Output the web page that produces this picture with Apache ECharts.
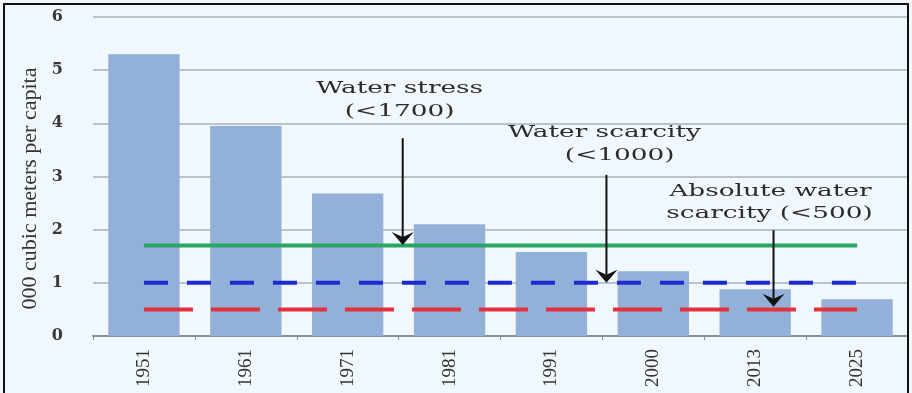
<!DOCTYPE html>
<html>
<head>
<meta charset="utf-8">
<script src="https://cdn.jsdelivr.net/npm/echarts@6/dist/echarts.min.js"></script>
<style>
  html, body { margin: 0; padding: 0; background: #ffffff; }
  #wrap { position: relative; width: 912px; height: 393px; overflow: hidden; }
  #chart { position: absolute; left: 0; top: 0; width: 912px; height: 393px; }
  #frame { position: absolute; left: 3px; top: 3px; width: 906px; height: 400px;
           box-sizing: border-box; border: 2px solid #111; pointer-events: none; }
</style>
</head>
<body>
<div id="wrap">
  <div id="chart"></div>
  <div id="frame"></div>
</div>
<script>
// ---- data ----
const years = ['1951', '1961', '1971', '1981', '1991', '2000', '2013', '2025'];
const perCapita = [5.3, 3.95, 2.68, 2.1, 1.58, 1.22, 0.88, 0.69];
const stressLevel = [1.7, 1.7, 1.7, 1.7, 1.7, 1.7, 1.7, 1.7];
const scarcityLevel = [1.0, 1.0, 1.0, 1.0, 1.0, 1.0, 1.0, 1.0];
const absoluteLevel = [0.5, 0.5, 0.5, 0.5, 0.5, 0.5, 0.5, 0.5];
const yAxisName = '000 cubic meters per capita';

// annotation texts (positions in data units: x = category slots, y = value)
const annotationText = ['Water stress', '(<1700)', 'Water scarcity', '(<1000)', 'Absolute water', 'scarcity (<500)'];
const annotationX = [3.01, 3.01, 5.02, 5.17, 6.65, 6.64];
const annotationY = [4.66, 4.23, 3.82, 3.40, 2.71, 2.31];
// arrows
const arrowX = [3.04, 5.04, 6.68];
const arrowFrom = [3.72, 3.03, 1.99];
const arrowTo = [1.71, 1.0, 0.55];

const serif = 'Liberation Serif';
const annFont = 'DejaVu Serif';

const chart = echarts.init(document.getElementById('chart'));
const option = {
  backgroundColor: '#f0f7fd',
  animation: false,
  grid: { left: 93, right: 4, top: 17, bottom: 57 },
  xAxis: [
    {
      type: 'category',
      data: years,
      axisLine: { show: true, lineStyle: { color: '#8a8f96', width: 2 } },
      axisTick: { show: true, length: 4, lineStyle: { color: '#8a8f96', width: 1 } },
      axisLabel: {
        rotate: 90, margin: 13, interval: 0,
        formatter: '{y|{value}}',
        rich: { y: { fontFamily: serif, fontSize: 19, color: '#333' } }
      },
      splitLine: { show: false }
    },
    { type: 'value', min: 0, max: 8, show: false, splitLine: { show: false } }
  ],
  yAxis: {
    type: 'value',
    min: 0, max: 6, interval: 1,
    name: yAxisName,
    nameLocation: 'middle',
    nameGap: 52,
    nameRotate: 90,
    nameTextStyle: { fontFamily: serif, fontSize: 22, color: '#333', padding: [0, 24, 0, 0] },
    axisLine: { show: false },
    axisTick: { show: false },
    axisLabel: { margin: 30, fontFamily: annFont, fontWeight: 'bold', fontSize: 16, color: '#3a3a3a' },
    splitLine: { lineStyle: { color: '#bac3cc', width: 2 } }
  },
  series: [
    {
      type: 'bar',
      data: perCapita,
      barCategoryGap: '30%',
      itemStyle: { color: '#93b0d8' },
      z: 1
    },
    {
      type: 'line', data: stressLevel, symbol: 'none', z: 3,
      lineStyle: { color: '#2ba562', width: 4, type: 'solid' }
    },
    {
      type: 'line', data: scarcityLevel, symbol: 'none', z: 3,
      lineStyle: { color: '#1c2bd0', width: 4, type: [24, 19] }
    },
    {
      type: 'line', data: absoluteLevel, symbol: 'none', z: 3,
      lineStyle: { color: '#e2323e', width: 4, type: [49, 18] }
    },
    {
      type: 'custom',
      xAxisIndex: 1, yAxisIndex: 0,
      silent: true, clip: false, z: 5,
      data: arrowX.map((x, i) => [x, arrowFrom[i], arrowTo[i]]),
      renderItem: function (params, api) {
        const top = api.coord([api.value(0), api.value(1)]);
        const tip = api.coord([api.value(0), api.value(2)]);
        return {
          type: 'group',
          children: [
            { type: 'line', shape: { x1: top[0], y1: top[1], x2: tip[0], y2: tip[1] - 8 },
              style: { stroke: '#111', lineWidth: 2 } },
            { type: 'polygon', shape: { points: [[tip[0] - 11, tip[1] - 13], [tip[0], tip[1] - 8], [tip[0] + 11, tip[1] - 13], [tip[0], tip[1]]] },
              style: { fill: '#111' } }
          ]
        };
      }
    },
    {
      type: 'custom',
      xAxisIndex: 1, yAxisIndex: 0,
      silent: true, clip: false, z: 6,
      data: annotationX.map((x, i) => [x, annotationY[i]]),
      renderItem: function (params, api) {
        const p = api.coord([api.value(0), api.value(1)]);
        return {
          type: 'text',
          x: p[0], y: p[1],
          scaleX: 1.55,
          style: {
            text: annotationText[params.dataIndex],
            fontFamily: annFont, fontSize: 17, fill: '#2b2b2b',
            align: 'center', verticalAlign: 'middle'
          }
        };
      }
    }
  ]
};
chart.setOption(option);
</script>
</body>
</html>
